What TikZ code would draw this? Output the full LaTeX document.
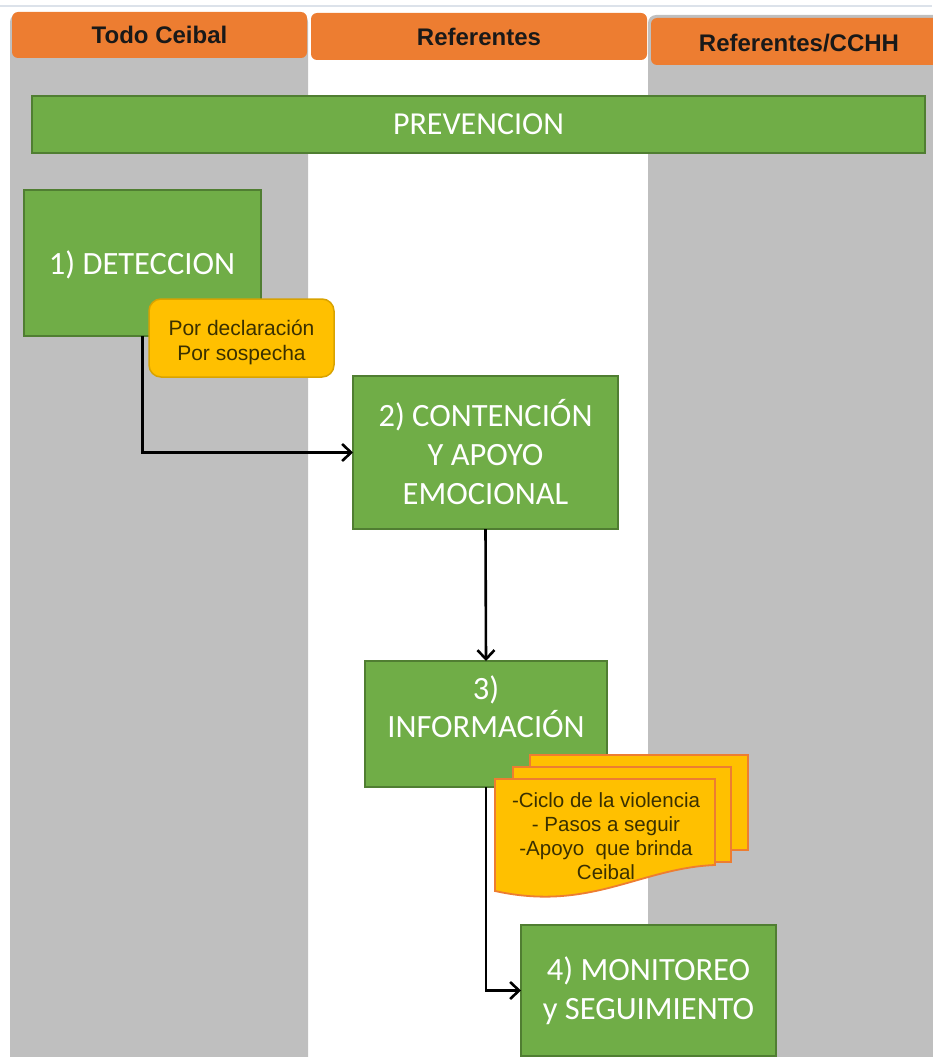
\documentclass[tikz,border=0pt]{standalone}
\usepackage{fontspec}
\setmainfont{Carlito}
\newfontfamily\arialf{Liberation Sans}
\usetikzlibrary{arrows.meta}
\definecolor{lanegrey}{HTML}{BFBFBF}
\definecolor{hdrorange}{HTML}{ED7D31}
\definecolor{boxgreen}{HTML}{70AD47}
\definecolor{boxgreenline}{HTML}{507E32}
\definecolor{noteyellow}{HTML}{FFC000}
\definecolor{noteline}{HTML}{D9A300}
\definecolor{notetext}{HTML}{3A3000}
\definecolor{topline}{HTML}{DCE2EA}
\tikzset{
  hdr/.style={fill=hdrorange, draw=none, rounded corners=6pt, anchor=north west, inner sep=0pt, outer sep=0pt,
    font=\arialf\bfseries\fontsize{24}{28}\selectfont, text=black!90},
  stepbox/.style={fill=boxgreen, draw=boxgreenline, line width=1.6pt, anchor=north west, inner sep=0pt, outer sep=0pt,
    align=center, text=white, font=\fontsize{32.5}{39}\selectfont},
  notebox/.style={fill=noteyellow, draw=noteline, line width=1.5pt, rounded corners=12pt, anchor=north west,
    inner sep=0pt, outer sep=0pt, align=center, text=notetext, font=\arialf\fontsize{21}{25}\selectfont},
  docpage/.style={fill=noteyellow, draw=hdrorange, line width=1.8pt},
  flow/.style={draw=black, line width=2.6pt, -{Straight Barb[length=9pt,width=17pt,line width=2.6pt]}}
}
\begin{document}
\begin{tikzpicture}[x=1pt,y=-1pt]
\useasboundingbox (0,0) rectangle (932,1057);
% top faint line
\draw[topline, line width=1.2pt] (0,6) -- (932,6);
% lanes
\fill[lanegrey, rounded corners=8pt] (10,1070) -- (10,14) -- (308,14) -- (308,1070);
\fill[lanegrey, rounded corners=8pt] (648,1070) -- (648,15) -- (950,15) -- (950,1070);
% headers
\node[hdr, minimum width=295pt, minimum height=46pt] (h1) at (12,12) {Todo Ceibal};
\node[hdr, minimum width=336pt, minimum height=47pt] (h2) at (311,13) {Referentes};
\node[hdr, minimum width=300pt, minimum height=47pt] (h3) at (651,18) {};
\node[font=\arialf\bfseries\fontsize{24}{28}\selectfont, text=black!90] (h3text) at (799,43) {Referentes/CCHH};
% prevention bar
\node[stepbox, minimum width=893pt, minimum height=57pt, font=\fontsize{32}{38}\selectfont] (prev) at (32,96) {PREVENCION};
% steps
\node[stepbox, minimum width=237pt, minimum height=146pt] (det) at (24,190) {};
\node[text=white, font=\fontsize{32.5}{39}\selectfont] (dettext) at (142,265) {1) DETECCION};
\node[stepbox, minimum width=265pt, minimum height=153pt] (cont) at (353,376) {2) CONTENCIÓN\\Y APOYO\\EMOCIONAL};
\node[stepbox, minimum width=242pt, minimum height=126pt] (info) at (365,661) {};
\node[text=white, align=center, font=\fontsize{32.5}{38}\selectfont] (infotext) at (486,707) {3)\\INFORMACIÓN};
\node[stepbox, minimum width=255pt, minimum height=131pt] (mon) at (521,925) {4) MONITOREO\\y SEGUIMIENTO};
% note
\node[notebox, minimum width=185pt, minimum height=78pt] (note) at (149,299) {};
\node[align=center, text=notetext, font=\arialf\fontsize{21}{25}\selectfont] (notetext) at (241.5,342) {Por declaración\\Por sospecha};
% arrows
\draw[flow] (det.south) |- (cont.west);
\draw[flow] (cont.south) -- (info.north);
\draw[flow] (info.south) |- (mon.west);
% multi-document
\draw[docpage] (530,755) rectangle (748,850);
\draw[docpage] (513,767) rectangle (731,862);
\draw[docpage] (495,779) -- (715,779) -- (715,865)
  .. controls (640,868) and (590,912) .. (495,891) -- cycle;
\node[align=center, text=notetext, font=\arialf\fontsize{20.5}{24}\selectfont] (docs) at (606,836)
  {-Ciclo de la violencia\\- Pasos a seguir\\-Apoyo~ que brinda\\Ceibal};
\end{tikzpicture}
\end{document}
